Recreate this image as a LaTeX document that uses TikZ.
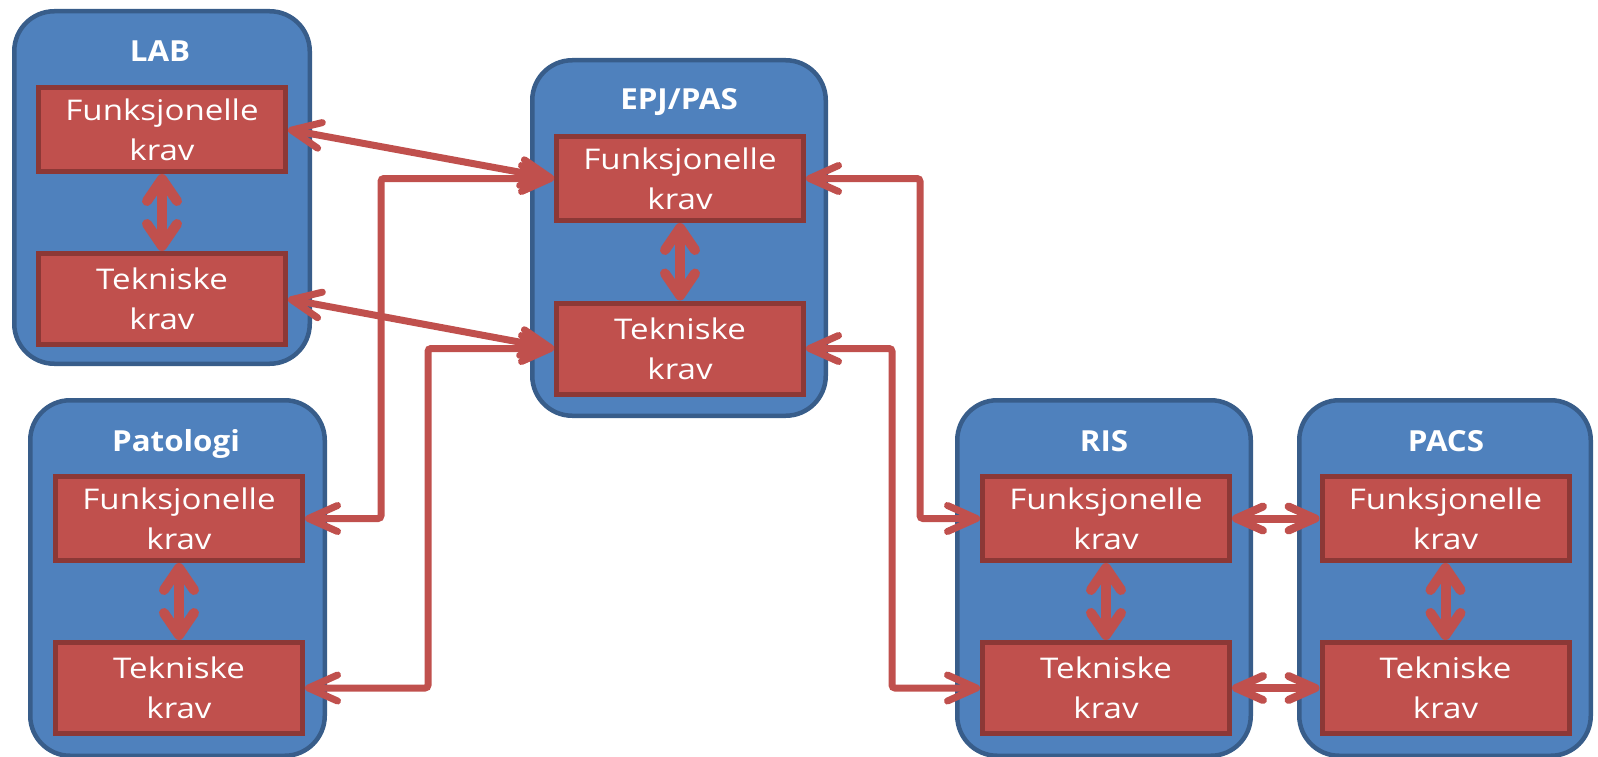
\documentclass[tikz,border=0pt]{standalone}
\usepackage{fontspec}
\setmainfont{Open Sans}
\newfontfamily\reqfont{Open Sans}[FakeStretch=1.16]
\newfontfamily\sysfont{Open Sans}[FakeStretch=1.08]
\usetikzlibrary{arrows.meta}
\definecolor{boxblue}{HTML}{4F81BD}
\definecolor{boxblueedge}{HTML}{385D8A}
\definecolor{reqred}{HTML}{C0504D}
\definecolor{reqrededge}{HTML}{8C3836}
\begin{document}
\begin{tikzpicture}[x=1pt,y=-1pt,
  sysbox/.style={fill=boxblue,draw=boxblueedge,line width=4.5pt,rounded corners=40pt,inner sep=0pt,minimum width=#1},
  systitle/.style={text=white,font=\sysfont\fontsize{29}{35}\selectfont\bfseries,inner sep=0pt,anchor=base},
  req/.style={fill=reqred,draw=reqrededge,line width=5pt,text=white,align=center,font=\reqfont\fontsize{28.5}{40}\selectfont,inner sep=0pt,minimum width=247pt},
  reqF/.style={req,minimum height=84pt},
  reqT/.style={req,minimum height=91pt},
  conn/.style={draw=reqred,line width=7pt,rounded corners=3pt,>={Straight Barb[length=29pt,width=26pt,round]},<->},
  hconn/.style={draw=reqred,line width=8pt,>={Straight Barb[length=27pt,width=24pt,round]},<->},
  vconn/.style={draw=reqred,line width=10pt,>={Straight Barb[length=22pt,width=30pt,round]},<->}
]
\useasboundingbox (0,0) rectangle (1598,757);
% system boxes
\node[sysbox=295.5pt,minimum height=352.5pt] (lab) at (162,187.5) {};
\node[sysbox=293.5pt,minimum height=355.5pt] (epj) at (679,238) {};
\node[sysbox=294.5pt,minimum height=355.5pt] (pat) at (177.5,578) {};
\node[sysbox=293.5pt,minimum height=355.5pt] (ris) at (1104,578) {};
\node[sysbox=291.5pt,minimum height=355.5pt] (pacs) at (1445,578) {};
% titles
\node[systitle] (labtitle) at (160,62) {LAB};
\node[systitle] (pattitle) at (176,451) {Patologi};
\node[systitle] (epjtitle) at (679,110) {EPJ/PAS};
\node[systitle] (ristitle) at (1104,451) {RIS};
\node[systitle] (pacstitle) at (1446,451) {PACS};
% requirement boxes
\node[reqF] (labF) at (162,129.5) {Funksjonelle\\krav};
\node[reqT] (labT) at (162,299) {Tekniske\\krav};
\node[reqF] (epjF) at (680,178.5) {Funksjonelle\\krav};
\node[reqT] (epjT) at (680,348.5) {Tekniske\\krav};
\node[reqF] (patF) at (179,518.5) {Funksjonelle\\krav};
\node[reqT] (patT) at (179,688) {Tekniske\\krav};
\node[reqF] (risF) at (1106,518.5) {Funksjonelle\\krav};
\node[reqT] (risT) at (1106,688) {Tekniske\\krav};
\node[reqF] (pacsF) at (1445.5,518.5) {Funksjonelle\\krav};
\node[reqT] (pacsT) at (1445.5,688) {Tekniske\\krav};
% routing columns
\coordinate (c1) at (381,0);
\coordinate (c2) at (428,0);
\coordinate (c3) at (920,0);
\coordinate (c4) at (892,0);
% connectors
\draw[conn] (labF.east) -- (epjF.west);
\draw[conn] (labT.east) -- (epjT.west);
\draw[conn] (epjF.west) -- (epjF.west -| c1) |- (patF.east);
\draw[conn] (epjT.west) -- (epjT.west -| c2) |- (patT.east);
\draw[conn] (epjF.east) -- (epjF.east -| c3) |- (risF.west);
\draw[conn] (epjT.east) -- (epjT.east -| c4) |- (risT.west);
\draw[hconn] (risF.east) -- (pacsF.west);
\draw[hconn] (risT.east) -- (pacsT.west);
\draw[vconn] (labF.south) -- (labT.north);
\draw[vconn] (epjF.south) -- (epjT.north);
\draw[vconn] (patF.south) -- (patT.north);
\draw[vconn] (risF.south) -- (risT.north);
\draw[vconn] (pacsF.south) -- (pacsT.north);
\end{tikzpicture}
\end{document}
